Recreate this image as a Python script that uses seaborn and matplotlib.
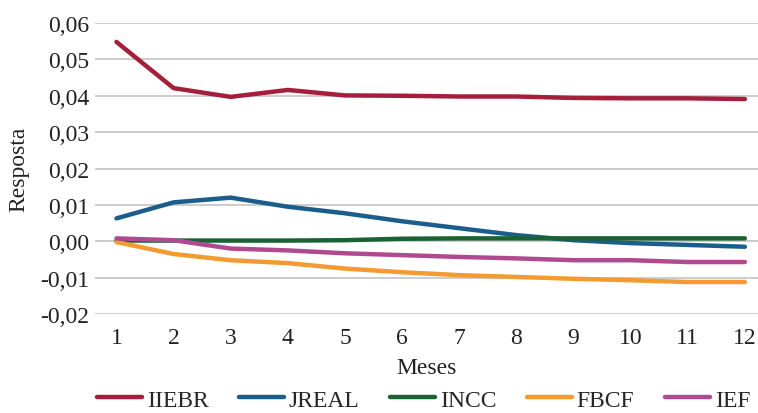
import matplotlib
matplotlib.use("Agg")
import matplotlib.pyplot as plt
import seaborn as sns
import pandas as pd
from matplotlib.ticker import FuncFormatter

meses = [1, 2, 3, 4, 5, 6, 7, 8, 9, 10, 11, 12]
iiebr = [0.0548, 0.0421, 0.0397, 0.0416, 0.0401, 0.0400, 0.0398, 0.0398, 0.0394, 0.0393, 0.0393, 0.0391]
jreal = [0.0063, 0.0107, 0.0120, 0.0095, 0.0077, 0.0055, 0.0036, 0.0017, 0.0003, -0.0005, -0.0010, -0.0015]
incc = [0.0002, 0.0002, 0.0002, 0.0002, 0.0003, 0.0007, 0.0008, 0.0008, 0.0008, 0.0008, 0.0008, 0.0008]
fbcf = [-0.0002, -0.0035, -0.0052, -0.0060, -0.0075, -0.0085, -0.0093, -0.0098, -0.0103, -0.0107, -0.0112, -0.0112]
ief = [0.0008, 0.0003, -0.0020, -0.0025, -0.0033, -0.0038, -0.0043, -0.0047, -0.0052, -0.0052, -0.0057, -0.0057]
series_names = ["IIEBR", "JREAL", "INCC", "FBCF", "IEF"]
colors = ["#A51E3C", "#1B5E8C", "#1A6133", "#F39B30", "#B04A90"]
yticks = [-0.02, -0.01, 0.00, 0.01, 0.02, 0.03, 0.04, 0.05, 0.06]

rows = []
for name, vals in zip(series_names, [iiebr, jreal, incc, fbcf, ief]):
    for m, v in zip(meses, vals):
        rows.append({"Meses": m, "Resposta": v, "Serie": name})
df = pd.DataFrame(rows)

sns.set_style("white")
plt.rcParams["font.family"] = ["Liberation Serif", "DejaVu Serif"]

FS = 17
fig = plt.figure(figsize=(7.58, 4.14), dpi=100)
ax = fig.add_axes([0.125, 0.239, 0.875, 0.703])
sns.lineplot(data=df, x="Meses", y="Resposta", hue="Serie", palette=colors,
             hue_order=series_names, linewidth=3.2, ax=ax, legend=True)

ax.set_ylim(-0.02, 0.06)
ax.set_xlim(0.62, 12.23)
ax.set_yticks(yticks)
ax.yaxis.set_major_formatter(FuncFormatter(lambda v, p: f"{v:.2f}".replace(".", ",").replace("-0,00", "0,00")))
ax.set_xticks(meses)
ax.grid(axis="y", color="#c8c8c8", linewidth=1.3)
ax.grid(axis="x", visible=False)
ax.set_axisbelow(True)
for s in ax.spines.values():
    s.set_visible(False)
ax.tick_params(axis="both", labelsize=FS, length=0, colors="#222222")
ax.tick_params(axis="x", pad=9)
ax.tick_params(axis="y", pad=4)
ax.set_xlabel("Meses", fontsize=FS, color="#222222", labelpad=7)
ax.set_ylabel("Resposta", fontsize=FS, color="#222222", labelpad=8)

ax.legend_.remove()
handles, labels = ax.get_legend_handles_labels()
fig.legend(handles, labels, loc="center", bbox_to_anchor=(0.559, 0.032), ncol=5,
           frameon=False, fontsize=FS, handlelength=1.9, handletextpad=0.2,
           columnspacing=1.3, borderpad=0, borderaxespad=0)

fig.savefig("out.png", dpi=100)
